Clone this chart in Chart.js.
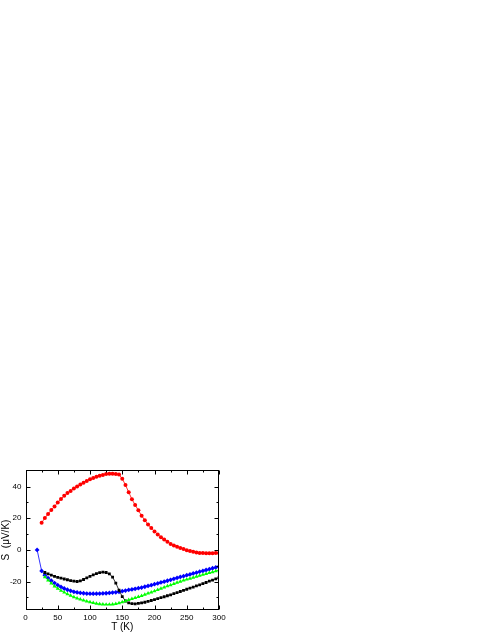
<!DOCTYPE html>
<html>
<head>
<meta charset="utf-8">
<script src="https://cdn.jsdelivr.net/npm/chart.js@4/dist/chart.umd.min.js"></script>
<style>
    html, body { margin: 0; padding: 0; background: #fff; }
    canvas { display: block; }
</style>
</head>
<body>
<canvas id="seebeckChart" width="491" height="635"></canvas>
<script>
// ---- Data (T in K, S in µV/K) ----
const tempRed = [25, 30, 35, 40, 45, 50, 55, 60, 65, 70, 75, 80, 85, 90, 95, 100, 105, 110, 115, 120,
    125, 130, 135, 140, 145, 150, 155, 160, 165, 170, 175, 180, 185, 190, 195, 200, 205, 210, 215, 220,
    225, 230, 235, 240, 245, 250, 255, 260, 265, 270, 275, 280, 285, 290, 295, 300];
const seebeckRed = [17.1, 20.2, 22.7, 25.2, 27.5, 30, 32.1, 34.2, 35.9, 37.3, 38.8, 40, 41.3, 42.5, 43.6, 44.6, 45.4, 46.3, 46.9, 47.3,
    48, 48.1, 48.1, 48, 47.6, 45, 41, 36.5, 32, 28.4, 25, 21.6, 18.8, 16, 13.8, 11.7, 9.8, 8, 6.5, 5.1,
    3.8, 2.8, 2, 1.2, 0.5, -0.2, -0.7, -1.2, -1.6, -1.9, -2, -2.1, -2.1, -2.1, -2, -2];

const tempBlue = [18, 25, 30, 35, 40, 45, 50, 55, 60, 65, 70, 75, 80, 85, 90, 95, 100, 105, 110, 115, 120,
    125, 130, 135, 140, 145, 150, 155, 160, 165, 170, 175, 180, 185, 190, 195, 200, 205, 210, 215, 220,
    225, 230, 235, 240, 245, 250, 255, 260, 265, 270, 275, 280, 285, 290, 295, 300];
const seebeckBlue = [0, -13.3, -16, -17.8, -19.5, -21, -22.3, -23.4, -24.4, -25.2, -25.9, -26.5, -26.9, -27.2, -27.4, -27.6, -27.7, -27.7, -27.7, -27.6, -27.5,
    -27.4, -27.2, -27, -26.8, -26.5, -26.1, -25.7, -25.3, -25, -24.6, -24.2, -23.8, -23.3, -22.8, -22.3, -21.7, -21.2, -20.6, -20.1, -19.5,
    -18.9, -18.3, -17.7, -17.1, -16.6, -16, -15.5, -14.9, -14.4, -13.8, -13.3, -12.7, -12.2, -11.6, -11.1, -10.5];

const tempGreen = [30, 35, 40, 45, 50, 55, 60, 65, 70, 75, 80, 85, 90, 95, 100, 105, 110, 115, 120,
    125, 130, 135, 140, 145, 150, 155, 160, 165, 170, 175, 180, 185, 190, 195, 200, 205, 210, 215, 220,
    225, 230, 235, 240, 245, 250, 255, 260, 265, 270, 275, 280, 285, 290, 295, 300];
const seebeckGreen = [-17.2, -19.2, -21.1, -23, -24.4, -25.7, -26.8, -27.9, -28.9, -29.8, -30.6, -31.3, -31.9, -32.5, -33, -33.5, -33.9, -34.2, -34.4,
    -34.5, -34.5, -34.4, -34.1, -33.6, -33, -32.3, -31.6, -30.9, -30.3, -29.7, -29, -28.3, -27.5, -26.8, -26, -25.2, -24.4, -23.7, -22.9,
    -22.2, -21.4, -20.7, -20, -19.3, -18.7, -18.1, -17.5, -16.9, -16.3, -15.7, -15.1, -14.5, -14, -13.4, -12.8];

const tempBlack = [30, 35, 40, 45, 50, 55, 60, 65, 70, 75, 80, 85, 90, 95, 100, 105, 110, 115, 120,
    125, 130, 135, 140, 145, 150, 155, 160, 165, 170, 175, 180, 185, 190, 195, 200, 205, 210, 215, 220,
    225, 230, 235, 240, 245, 250, 255, 260, 265, 270, 275, 280, 285, 290, 295, 300];
const seebeckBlack = [-14.3, -15.2, -16, -16.7, -17.4, -17.9, -18.4, -18.9, -19.4, -19.8, -20, -19.6, -18.7, -17.7, -16.7, -15.8, -15, -14.4, -14.1,
    -14.3, -15.2, -17.2, -21, -25.5, -29.5, -32.3, -33.5, -34, -34.1, -33.8, -33.5, -33.1, -32.6, -32, -31.4, -30.8, -30.2, -29.6, -29,
    -28.4, -27.7, -27, -26.3, -25.6, -24.9, -24.2, -23.5, -22.8, -22.1, -21.3, -20.6, -19.8, -19.1, -18.3, -17.5];

// ---- Axis ticks ----
const xMajorTicks = [0, 50, 100, 150, 200, 250, 300];
const xMinorTicks = [25, 75, 125, 175, 225, 275];
const yMajorTicks = [-20, 0, 20, 40];
const yMinorTicks = [-30, -10, 10, 30];

const toPoints = (xs, ys) => xs.map((x, i) => ({ x: x, y: ys[i] }));

// frame + inward ticks on all four sides
const framePlugin = {
    id: 'frame',
    afterDraw(chart) {
        const { ctx, chartArea: a, scales } = chart;
        const L = Math.round(a.left) + 0.5, R = Math.round(a.right) - 0.5;
        const T = Math.round(a.top) + 0.5, B = Math.round(a.bottom) - 0.5;
        ctx.save();
        ctx.strokeStyle = '#000';
        ctx.lineWidth = 1;
        ctx.strokeRect(L, T, R - L, B - T);
        ctx.beginPath();
        const xt = (vals, len) => vals.forEach(v => {
            const px = Math.round(scales.x.getPixelForValue(v)) + 0.5;
            ctx.moveTo(px, B); ctx.lineTo(px, B - len);
            ctx.moveTo(px, T); ctx.lineTo(px, T + len);
        });
        const yt = (vals, len) => vals.forEach(v => {
            const py = Math.round(scales.y.getPixelForValue(v)) + 0.5;
            ctx.moveTo(L, py); ctx.lineTo(L + len, py);
            ctx.moveTo(R, py); ctx.lineTo(R - len, py);
        });
        xt(xMajorTicks, 4); xt(xMinorTicks, 2);
        yt(yMajorTicks, 4); yt(yMinorTicks, 2);
        ctx.stroke();
        ctx.restore();
    }
};

function series(label, xs, ys, color, style, r) {
    return {
        label: label,
        data: toPoints(xs, ys),
        borderColor: color,
        backgroundColor: color,
        borderWidth: 0.8,
        pointStyle: style,
        pointRadius: r,
        pointBorderWidth: 0,
        pointBackgroundColor: color,
        tension: 0,
        fill: false
    };
}

new Chart(document.getElementById('seebeckChart'), {
    type: 'line',
    data: {
        datasets: [
            series('green', tempGreen, seebeckGreen, '#00ff00', 'triangle', 2.3),
            series('black', tempBlack, seebeckBlack, '#000000', 'rect', 2),
            series('blue', tempBlue, seebeckBlue, '#0000ff', 'rectRot', 2.4),
            series('red', tempRed, seebeckRed, '#ff0000', 'circle', 2)
        ]
    },
    options: {
        responsive: false,
        animation: false,
        devicePixelRatio: 1,
        layout: { padding: { left: 0, top: 470, right: 272, bottom: 0 } },
        plugins: { legend: { display: false }, tooltip: { enabled: false } },
        scales: {
            x: {
                type: 'linear',
                min: 0,
                max: 300,
                afterBuildTicks: s => { s.ticks = xMajorTicks.map(v => ({ value: v })); },
                afterFit: s => { s.height = 25; },
                grid: { display: false, drawTicks: false },
                border: { display: false },
                ticks: { color: '#000', padding: 3, maxRotation: 0, font: { family: "'Liberation Sans', Arial, sans-serif", size: 8 } },
                title: {
                    display: true,
                    text: 'T (K)',
                    color: '#000',
                    padding: { top: 0, bottom: 2 },
                    font: { family: "'Liberation Sans', Arial, sans-serif", size: 10 }
                }
            },
            y: {
                type: 'linear',
                min: -38,
                max: 50.5,
                afterBuildTicks: s => { s.ticks = yMajorTicks.map(v => ({ value: v })); },
                afterFit: s => { s.width = 25.5; },
                grid: { display: false, drawTicks: false },
                border: { display: false },
                ticks: { color: '#000', padding: 4, font: { family: "'Liberation Sans', Arial, sans-serif", size: 8 } },
                title: {
                    display: true,
                    text: 'S  (\u03bcV/K)',
                    color: '#000',
                    padding: { top: 0, bottom: 0 },
                    font: { family: "'Liberation Sans', Arial, sans-serif", size: 10 }
                }
            }
        }
    },
    plugins: [framePlugin]
});
</script>
</body>
</html>
